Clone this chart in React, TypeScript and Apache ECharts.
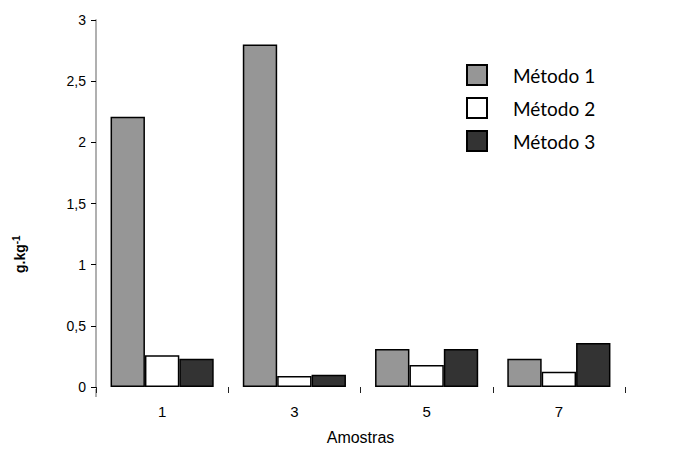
import React, { useEffect, useRef } from "react";
import * as echarts from "echarts";

const amostras = ["1", "3", "5", "7"];
const metodo1 = [2.21, 2.8, 0.31, 0.23];
const metodo2 = [0.26, 0.09, 0.18, 0.125];
const metodo3 = [0.23, 0.1, 0.31, 0.36];
const seriesNames = ["Método 1", "Método 2", "Método 3"];
const seriesColors = ["#969696", "#ffffff", "#333333"];

export default function App() {
  const ref = useRef<HTMLDivElement>(null);

  useEffect(() => {
    document.body.style.margin = "0";
    if (!ref.current) return;
    const chart = echarts.init(ref.current, null, { renderer: "svg" });
    const values = [metodo1, metodo2, metodo3];
    chart.setOption({
      animation: false,
      backgroundColor: "#ffffff",
      grid: { left: 96, right: 71, top: 20, bottom: 60, containLabel: false },
      legend: {
        orient: "vertical",
        left: 466,
        top: 64,
        padding: 0,
        itemWidth: 20,
        itemHeight: 20,
        itemGap: 11,
        icon: "rect",
        data: seriesNames,
        textStyle: {
          fontFamily: "Lato",
          fontSize: 19,
          color: "#000",
          padding: [0, 0, 0, 21],
        },
      },
      xAxis: {
        type: "category",
        data: amostras,
        name: "Amostras",
        nameLocation: "middle",
        nameGap: 42,
        nameTextStyle: { fontFamily: "Liberation Sans", fontSize: 16, color: "#000" },
        axisLine: { show: false },
        axisTick: { show: true, length: 6, lineStyle: { color: "#222" } },
        axisLabel: { fontFamily: "Liberation Sans", fontSize: 15, color: "#000", margin: 17 },
      },
      yAxis: {
        type: "value",
        min: 0,
        max: 3,
        interval: 0.5,
        axisLine: { show: true, lineStyle: { color: "#b0b0b0", width: 2 } },
        axisTick: { show: true, inside: false, length: 5, lineStyle: { color: "#000" } },
        splitLine: { show: false },
        axisLabel: {
          fontFamily: "Liberation Sans",
          fontSize: 14,
          color: "#000",
          margin: 10,
          formatter: (v: number) => String(v).replace(".", ","),
        },
      },
      series: seriesNames.map((name, i) => ({
        name,
        type: "bar",
        data: values[i],
        barGap: "0%",
        barCategoryGap: "22%",
        itemStyle: {
          color: seriesColors[i],
          borderColor: "#000",
          borderWidth: 1.5,
        },
      })),
      graphic: [
        {
          type: "line",
          shape: { x1: 96, y1: 389, x2: 96, y2: 397 },
          style: { stroke: "#b0b0b0", lineWidth: 2 },
        },
        {
          type: "text",
          x: 11,
          y: 273,
          rotation: Math.PI / 2,
          style: {
            text: "{b|g.kg}{s|-1}",
            rich: {
              b: { fontFamily: "Liberation Sans", fontSize: 14, fontWeight: "bold", fill: "#000" },
              s: {
                fontFamily: "Liberation Sans",
                fontSize: 10,
                fontWeight: "bold",
                fill: "#000",
                verticalAlign: "top",
                padding: [0, 0, 8, 0],
              },
            },
          },
        },
      ],
    });
    return () => chart.dispose();
  }, []);

  return <div ref={ref} style={{ width: 696, height: 450 }} />;
}
